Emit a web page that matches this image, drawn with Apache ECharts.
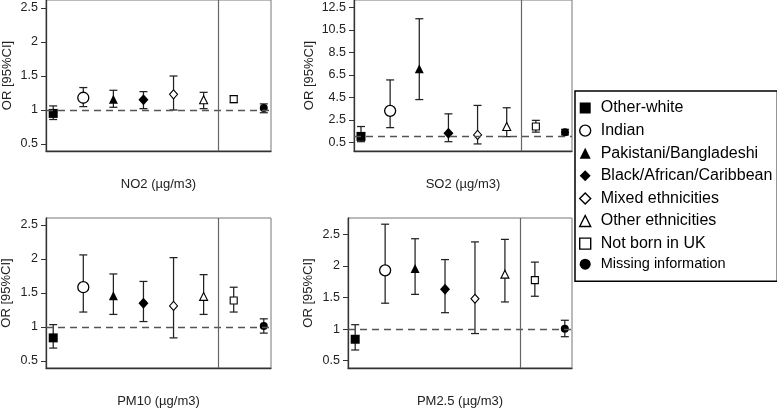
<!DOCTYPE html>
<html><head><meta charset="utf-8">
<script src="https://cdn.jsdelivr.net/npm/echarts@6/dist/echarts.min.js"></script>
<style>html,body{margin:0;padding:0;background:#fff}#c{width:777px;height:409px}</style>
</head><body><div id="c"></div>
<script>
// ---- data ----
const categories = ['Other-white','Indian','Pakistani/Bangladeshi','Black/African/Caribbean','Mixed ethnicities','Other ethnicities','Not born in UK','Missing information'];
const panelTitles = ['NO2 (µg/m3)','SO2 (µg/m3)','PM10 (µg/m3)','PM2.5 (µg/m3)'];

const no2OR = [0.95,1.18,1.16,1.15,1.23,1.15,1.16,1.03];
const no2Lo = [0.86,1.05,1.04,1.02,1.00,1.02,1.11,0.96];
const no2Hi = [1.06,1.33,1.29,1.27,1.50,1.26,1.21,1.09];

const so2OR = [1.02,3.30,7.05,1.30,1.15,1.90,1.90,1.40];
const so2Lo = [0.55,1.80,4.30,0.55,0.35,1.00,1.40,1.15];
const so2Hi = [1.90,6.05,11.50,3.03,3.78,3.57,2.45,1.65];

const pm10OR = [0.84,1.585,1.46,1.35,1.31,1.45,1.39,1.015];
const pm10Lo = [0.69,1.22,1.185,1.08,0.84,1.185,1.22,0.91];
const pm10Hi = [1.035,2.06,1.78,1.67,2.02,1.77,1.585,1.12];

const pm25OR = [0.84,1.93,1.96,1.63,1.48,1.87,1.775,1.005];
const pm25Lo = [0.67,1.41,1.55,1.26,0.93,1.43,1.52,0.88];
const pm25Hi = [1.07,2.66,2.43,2.10,2.38,2.42,2.06,1.14];

const orTicks = [0.5,1,1.5,2,2.5];
const so2Ticks = [0.5,2.5,4.5,6.5,8.5,10.5,12.5];
const refValue = 1;
const splitPosition = 6.5;

// ---- styling / layout ----
const FONT = "'Liberation Sans', Arial, sans-serif";
const markers = [
  {symbol:'rect', size:9, fill:'#000', stroke:'#000', bw:0},
  {symbol:'circle', size:11, fill:'#fff', stroke:'#000', bw:1.3},
  {symbol:'triangle', size:9, fill:'#000', stroke:'#000', bw:0},
  {symbol:'diamond', size:[10,11], fill:'#000', stroke:'#000', bw:0},
  {symbol:'diamond', size:[8,9], fill:'#fff', stroke:'#000', bw:1.1},
  {symbol:'triangle', size:8, fill:'#fff', stroke:'#000', bw:1.1},
  {symbol:'rect', size:7, fill:'#fff', stroke:'#000', bw:1.1},
  {symbol:'circle', size:8, fill:'#000', stroke:'#000', bw:0}
];
const layout = [
  {left:46, top:0, width:225, height:151, ymin:0.397, ymax:2.618, gapY:32.5},
  {left:354, top:0, width:218, height:151, ymin:-0.28, ymax:13.17, gapY:38},
  {left:46, top:218, width:225, height:150, ymin:0.397, ymax:2.603, gapY:32.8},
  {left:348, top:218, width:224, height:150, ymin:0.385, ymax:2.758, gapY:33}
];
const panelData = [
  {or:no2OR, lo:no2Lo, hi:no2Hi, ticks:orTicks},
  {or:so2OR, lo:so2Lo, hi:so2Hi, ticks:so2Ticks},
  {or:pm10OR, lo:pm10Lo, hi:pm10Hi, ticks:orTicks},
  {or:pm25OR, lo:pm25Lo, hi:pm25Hi, ticks:orTicks}
];
const xPos = categories.map((c,i)=>i+1);

const grid=[], xAxis=[], yAxis=[], series=[];
panelData.forEach((p,k)=>{
  const L = layout[k];
  grid.push({left:L.left, top:L.top, width:L.width, height:L.height, show:true, borderColor:'#777', borderWidth:1, backgroundColor:'transparent', outerBoundsMode:'none', containLabel:false});
  xAxis.push({type:'value', gridIndex:k, min:0.76, max:8.24, axisLabel:{show:false}, axisTick:{show:false}, splitLine:{show:false},
    axisLine:{show:true, onZero:false, lineStyle:{color:'#333', width:1.3}},
    name:panelTitles[k], nameLocation:'middle', nameGap:27, nameTextStyle:{fontSize:13, color:'#222', fontFamily:FONT}});
  yAxis.push({type:'value', gridIndex:k, min:L.ymin, max:L.ymax, splitLine:{show:false},
    axisLine:{show:true, lineStyle:{color:'#333', width:1.3}},
    axisTick:{show:true, length:5, customValues:p.ticks, lineStyle:{color:'#333'}},
    axisLabel:{customValues:p.ticks, margin:8, fontSize:12.5, color:'#222', fontFamily:FONT},
    name:'OR [95%CI]', nameLocation:'middle', nameGap:L.gapY, nameTextStyle:{fontSize:13, color:'#222', fontFamily:FONT}});
  // reference lines
  series.push({type:'line', xAxisIndex:k, yAxisIndex:k, data:[], silent:true, z:1,
    markLine:{silent:true, symbol:'none', animation:false, label:{show:false},
      data:[
        {yAxis:refValue, lineStyle:{type:[7,5], color:'#555', width:1.3}},
        {xAxis:splitPosition, lineStyle:{type:'solid', color:'#666', width:1.2}}
      ]}});
  // error bars
  series.push({type:'custom', xAxisIndex:k, yAxisIndex:k, z:2, silent:true, animation:false,
    data: xPos.map((x,i)=>[x, p.lo[i], p.hi[i]]),
    encode:{x:0, y:[1,2]},
    renderItem:function(params, api){
      const x=api.value(0);
      const a=api.coord([x, api.value(1)]), b=api.coord([x, api.value(2)]);
      const c=4, st={stroke:'#222', lineWidth:1.25};
      return {type:'group', children:[
        {type:'line', shape:{x1:a[0],y1:a[1],x2:b[0],y2:b[1]}, style:st},
        {type:'line', shape:{x1:a[0]-c,y1:a[1],x2:a[0]+c,y2:a[1]}, style:st},
        {type:'line', shape:{x1:b[0]-c,y1:b[1],x2:b[0]+c,y2:b[1]}, style:st}
      ]};
    }});
  // point estimates
  categories.forEach((name,i)=>{
    const m = markers[i];
    series.push({type:'scatter', name:name, xAxisIndex:k, yAxisIndex:k, z:3, animation:false,
      symbol:m.symbol, symbolSize:m.size,
      itemStyle:{color:m.fill, borderColor:m.stroke, borderWidth:m.bw, opacity:1},
      data:[[xPos[i], p.or[i]]]});
  });
});

const legendData = categories.map((name,i)=>{
  const m = markers[i];
  const item = {name:name, icon:m.symbol, itemStyle:{color:m.fill, borderColor:m.stroke, borderWidth:m.bw ? 1.4 : 0}};
  if (i===7) item.textStyle = {fontSize:14.5, lineHeight:16, padding:[0,0,0,5]};
  return item;
});

const chart = echarts.init(document.getElementById('c'), null, {renderer:'canvas'});
chart.setOption({
  animation:false,
  textStyle:{fontFamily:FONT},
  grid, xAxis, yAxis, series,
  legend:{orient:'vertical', left:575, top:91, padding:[7,5,9,4], itemGap:2.6, itemWidth:11, itemHeight:11,
    borderColor:'#000', borderWidth:1.5, backgroundColor:'#fff', selectedMode:false,
    textStyle:{fontSize:16, color:'#000', fontFamily:FONT, lineHeight:20, padding:[0,0,0,5]},
    data:legendData}
});
</script></body></html>
